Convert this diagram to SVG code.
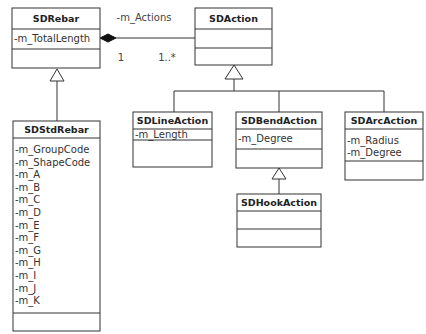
<svg xmlns="http://www.w3.org/2000/svg" width="426" height="334" viewBox="0 0 426 334">
<style>
.box{fill:#fff;stroke:#333;stroke-width:1}
.ln{stroke:#333;stroke-width:1;fill:none}
.tri{fill:#fff;stroke:#333;stroke-width:1}
.t{font-family:"DejaVu Sans",Verdana,sans-serif;font-size:9.5px;font-weight:bold;fill:#222;text-anchor:middle}
.a{font-family:"DejaVu Sans",Verdana,sans-serif;font-size:10px;fill:#333}
.lb{font-family:"DejaVu Sans",Verdana,sans-serif;font-size:10px;fill:#444}
</style>
<rect width="426" height="334" fill="#fff"/>
<g id="connectors">
  <!-- composition -->
  <line class="ln" x1="116" y1="38" x2="195" y2="38"/>
  <polygon points="100,38 108,34 116,38 108,42" fill="#111" stroke="#111"/>
  <text class="lb" x="144" y="21" text-anchor="middle">-m_Actions</text>
  <text class="lb" x="121" y="61" text-anchor="middle">1</text>
  <text class="lb" x="167" y="61" text-anchor="middle">1..*</text>
  <!-- SDStdRebar -> SDRebar -->
  <line class="ln" x1="57" y1="81" x2="57" y2="121"/>
  <polygon class="tri" points="57,69 50,81 64,81"/>
  <!-- actions -> SDAction -->
  <line class="ln" x1="234" y1="79" x2="234" y2="91"/>
  <line class="ln" x1="174" y1="91" x2="384" y2="91"/>
  <line class="ln" x1="174" y1="91" x2="174" y2="112"/>
  <line class="ln" x1="279" y1="91" x2="279" y2="112"/>
  <line class="ln" x1="384" y1="91" x2="384" y2="112"/>
  <polygon class="tri" points="234,65 225,79 243,79"/>
  <!-- SDHookAction -> SDBendAction -->
  <line class="ln" x1="279" y1="179" x2="279" y2="194"/>
  <polygon class="tri" points="279,168 272,179 286,179"/>
</g>
<g id="SDRebar">
  <rect class="box" x="12" y="8" width="88" height="60"/>
  <line class="ln" x1="12" y1="29" x2="100" y2="29"/>
  <line class="ln" x1="12" y1="49" x2="100" y2="49"/>
  <text class="t" x="56" y="22">SDRebar</text>
  <text class="a" x="14" y="42">-m_TotalLength</text>
</g>
<g id="SDAction">
  <rect class="box" x="195" y="8" width="77" height="57"/>
  <line class="ln" x1="195" y1="29" x2="272" y2="29"/>
  <line class="ln" x1="195" y1="48" x2="272" y2="48"/>
  <text class="t" x="233.5" y="22">SDAction</text>
</g>
<g id="SDStdRebar">
  <rect class="box" x="13" y="121" width="87" height="210"/>
  <line class="ln" x1="13" y1="138" x2="100" y2="138"/>
  <line class="ln" x1="13" y1="313" x2="100" y2="313"/>
  <text class="t" x="56.5" y="133">SDStdRebar</text>
  <text class="a" x="15" y="153">-m_GroupCode</text>
  <text class="a" x="15" y="165.6">-m_ShapeCode</text>
  <text class="a" x="15" y="178.2">-m_A</text>
  <text class="a" x="15" y="190.8">-m_B</text>
  <text class="a" x="15" y="203.4">-m_C</text>
  <text class="a" x="15" y="216">-m_D</text>
  <text class="a" x="15" y="228.6">-m_E</text>
  <text class="a" x="15" y="241.2">-m_F</text>
  <text class="a" x="15" y="253.8">-m_G</text>
  <text class="a" x="15" y="266.4">-m_H</text>
  <text class="a" x="15" y="279">-m_I</text>
  <text class="a" x="15" y="291.6">-m_J</text>
  <text class="a" x="15" y="304.2">-m_K</text>
</g>
<g id="SDLineAction">
  <rect class="box" x="133" y="112" width="79" height="55"/>
  <line class="ln" x1="133" y1="129" x2="212" y2="129"/>
  <line class="ln" x1="133" y1="140" x2="212" y2="140"/>
  <text class="t" x="172.5" y="124">SDLineAction</text>
  <text class="a" x="135" y="138">-m_Length</text>
</g>
<g id="SDBendAction">
  <rect class="box" x="236" y="112" width="86" height="56"/>
  <line class="ln" x1="236" y1="129" x2="322" y2="129"/>
  <line class="ln" x1="236" y1="149" x2="322" y2="149"/>
  <text class="t" x="279" y="124">SDBendAction</text>
  <text class="a" x="238" y="142">-m_Degree</text>
</g>
<g id="SDArcAction">
  <rect class="box" x="345" y="112" width="78" height="68"/>
  <line class="ln" x1="345" y1="129" x2="423" y2="129"/>
  <line class="ln" x1="345" y1="161" x2="423" y2="161"/>
  <text class="t" x="384" y="124">SDArcAction</text>
  <text class="a" x="347" y="144">-m_Radius</text>
  <text class="a" x="347" y="156">-m_Degree</text>
</g>
<g id="SDHookAction">
  <rect class="box" x="237" y="194" width="84" height="53"/>
  <line class="ln" x1="237" y1="211" x2="321" y2="211"/>
  <line class="ln" x1="237" y1="229" x2="321" y2="229"/>
  <text class="t" x="279" y="206">SDHookAction</text>
</g>
</svg>
